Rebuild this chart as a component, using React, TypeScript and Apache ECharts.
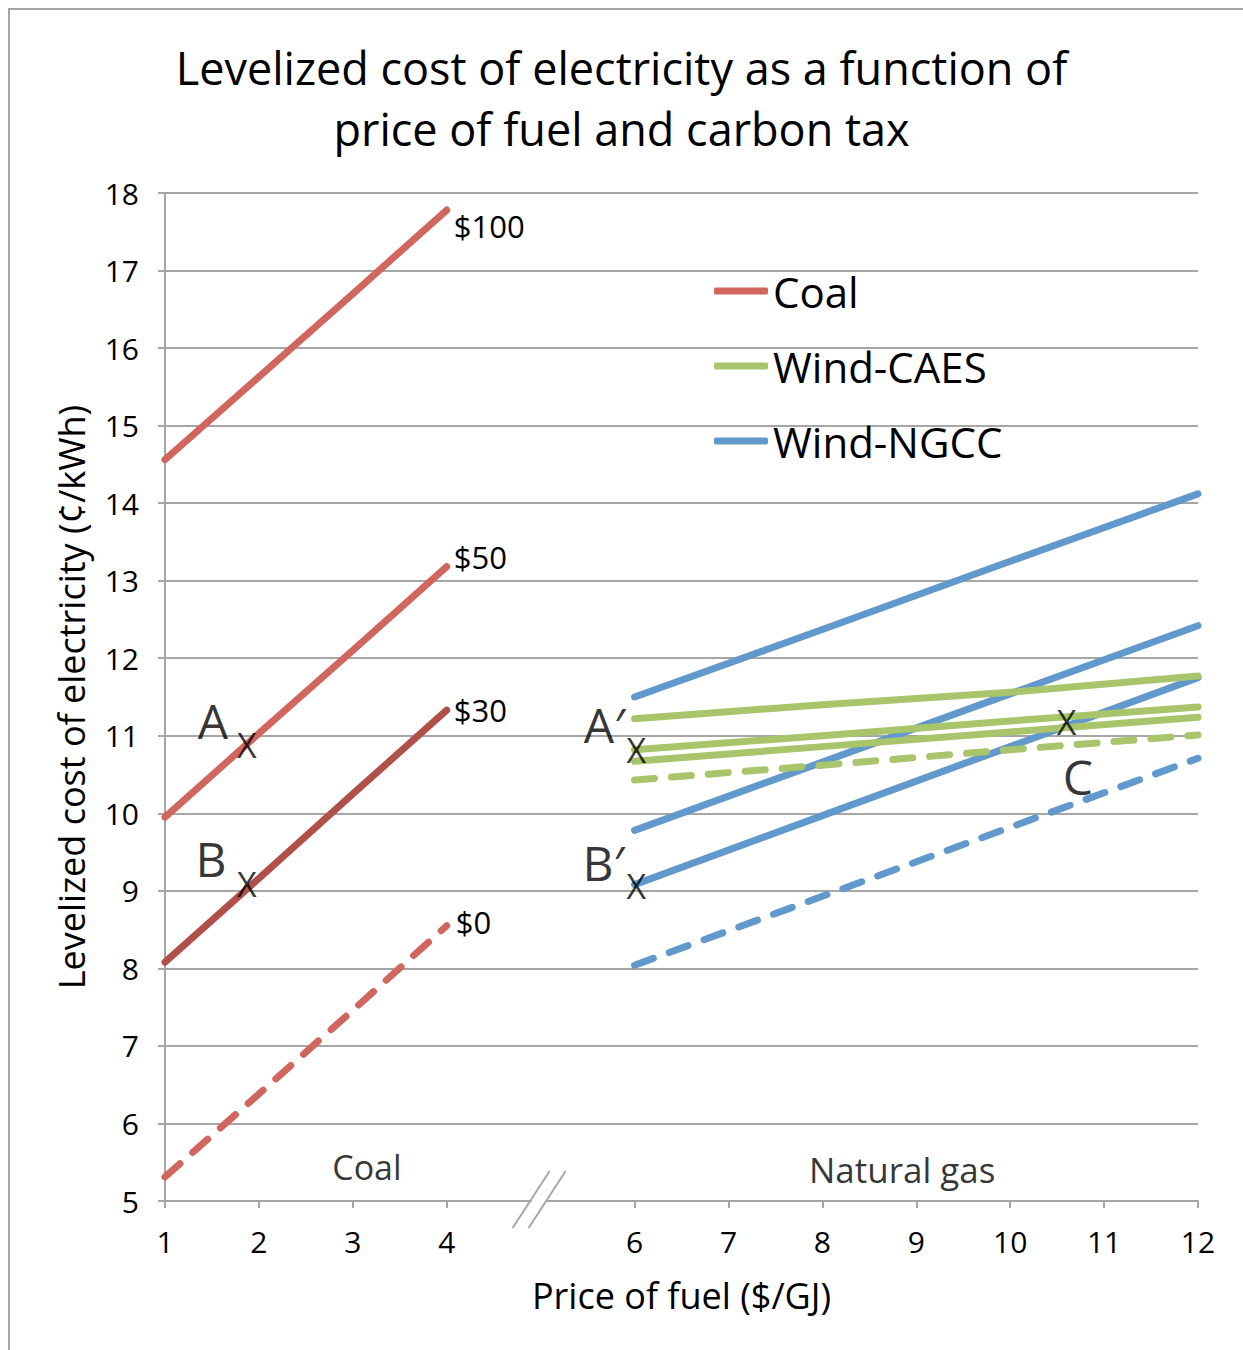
import React, { useEffect, useRef } from "react";
import * as echarts from "echarts";

const FONT = "Open Sans";

// Coal (x = 1..4), carbon tax levels
const coalX = [1, 2, 3, 4];
const coal100 = [14.56, 15.63, 16.7, 17.78];
const coal50 = [9.95, 11.03, 12.1, 13.18];
const coal30 = [8.08, 9.16, 10.25, 11.33];
const coal0 = [5.31, 6.38, 7.46, 8.55];

// Natural gas (x = 6..12)
const gasX = [6, 8, 10, 12];
const ngccTop = [11.5, 12.37, 13.25, 14.12];
const ngccMid = [9.78, 10.66, 11.54, 12.42];
const ngccLow = [9.08, 9.97, 10.86, 11.75];
const ngccDash = [8.04, 8.93, 9.82, 10.71];
const caesTop = [11.22, 11.4, 11.56, 11.77];
const caesMid = [10.82, 11.0, 11.19, 11.37];
const caesLow = [10.67, 10.86, 11.05, 11.24];
const caesDash = [10.43, 10.62, 10.82, 11.01];

const xTickValues = [1, 2, 3, 4, 6, 7, 8, 9, 10, 11, 12];
const legendNames = ["Coal", "Wind-CAES", "Wind-NGCC"];

// Annotations (text, data position, font size)
const annotText = ["A", "X", "B", "X", "A′", "X", "B′", "X", "X", "C", "Coal", "Natural gas"];
const annotX = [1.51, 1.87, 1.49, 1.87, 5.68, 6.02, 5.67, 6.02, 10.6, 10.72, 3.15, 8.85];
const annotY = [11.2, 10.88, 9.42, 9.09, 11.15, 10.82, 9.37, 9.06, 11.18, 10.48, 5.44, 5.4];
const annotSize = [48, 34, 48, 34, 48, 34, 48, 34, 34, 48, 34, 35];

const RED = "#d0665e";
const DARKRED = "#b14f49";
const GREEN = "#a8c56c";
const BLUE = "#6199cc";
const GRID = "#a6a6a6";

const pair = (xs: number[], ys: number[]) => xs.map((x, i) => [x, ys[i]]);

function lineSeries(
  name: string,
  xs: number[],
  ys: number[],
  color: string,
  dashed: boolean,
  endText?: string,
  endOffset?: number[]
) {
  const s: any = {
    type: "line",
    name,
    data: pair(xs, ys),
    color,
    showSymbol: false,
    symbol: "none",
    silent: true,
    z: 3,
    lineStyle: {
      width: 7,
      color,
      type: dashed ? [20, 17] : "solid",
      cap: "round",
      join: "round",
    },
  };
  if (endText) {
    s.endLabel = {
      show: true,
      formatter: endText,
      fontFamily: FONT,
      fontSize: 31,
      color: "#000",
      distance: 7,
      offset: endOffset || [0, 0],
    };
  }
  return s;
}

export default function App() {
  const ref = useRef<HTMLDivElement>(null);
  useEffect(() => {
    document.body.style.margin = "0";
    const chart = echarts.init(ref.current!, null, { renderer: "svg" });
    const option: any = {
      animation: false,
      textStyle: { fontFamily: FONT, color: "#000" },
      title: {
        text: "Levelized cost of electricity as a function of\nprice of fuel and carbon tax",
        left: "center",
        top: 32,
        textStyle: { fontFamily: FONT, fontSize: 45, fontWeight: "normal", color: "#000", lineHeight: 61 },
      },
      legend: {
        orient: "vertical",
        left: 714,
        top: 264,
        padding: 0,
        itemWidth: 54,
        itemHeight: 7,
        itemGap: 21,
        icon: "roundRect",
        selectedMode: false,
        data: legendNames,
        textStyle: { fontFamily: FONT, fontSize: 42, color: "#000", lineHeight: 42, padding: [12, 0, 0, 0] },
      },
      grid: { left: 165, right: 45, top: 193, bottom: 149, containLabel: false },
      xAxis: {
        type: "value",
        min: 1,
        max: 12,
        interval: 1,
        name: "Price of fuel ($/GJ)",
        nameLocation: "middle",
        nameGap: 76,
        nameTextStyle: { fontFamily: FONT, fontSize: 36, color: "#000" },
        axisLine: { show: true, onZero: false, lineStyle: { color: GRID, width: 2 } },
        axisTick: { show: true, length: 7, customValues: xTickValues, lineStyle: { color: GRID, width: 2 } },
        axisLabel: { customValues: xTickValues, fontFamily: FONT, fontSize: 30, color: "#000", margin: 25 },
        splitLine: { show: false },
      },
      yAxis: {
        type: "value",
        min: 5,
        max: 18,
        interval: 1,
        name: "Levelized cost of electricity (¢/kWh)",
        nameLocation: "middle",
        nameGap: 76,
        nameRotate: 90,
        nameTextStyle: { fontFamily: FONT, fontSize: 36, color: "#000" },
        axisLine: { show: true, lineStyle: { color: GRID, width: 2 } },
        axisTick: { show: true, length: 7, lineStyle: { color: GRID, width: 2 } },
        axisLabel: { fontFamily: FONT, fontSize: 30, color: "#000", margin: 26 },
        splitLine: { show: true, lineStyle: { color: GRID, width: 2 } },
      },
      series: [
        lineSeries("Coal", coalX, coal100, RED, false, "$100", [0, 16]),
        lineSeries("Coal $50", coalX, coal50, RED, false, "$50", [0, -10]),
        lineSeries("Coal $30", coalX, coal30, DARKRED, false, "$30", [0, 0]),
        lineSeries("Coal $0", coalX, coal0, RED, true, "$0", [2, -4]),
        lineSeries("Wind-NGCC", gasX, ngccTop, BLUE, false),
        lineSeries("Wind-NGCC 2", gasX, ngccMid, BLUE, false),
        lineSeries("Wind-NGCC 3", gasX, ngccLow, BLUE, false),
        lineSeries("Wind-NGCC 4", gasX, ngccDash, BLUE, true),
        lineSeries("Wind-CAES", gasX, caesTop, GREEN, false),
        lineSeries("Wind-CAES 2", gasX, caesMid, GREEN, false),
        lineSeries("Wind-CAES 3", gasX, caesLow, GREEN, false),
        lineSeries("Wind-CAES 4", gasX, caesDash, GREEN, true),
        {
          type: "scatter",
          name: "annotations",
          silent: true,
          z: 10,
          symbolSize: 1,
          itemStyle: { color: "rgba(0,0,0,0)" },
          data: annotText.map((t, i) => ({
            value: [annotX[i], annotY[i]],
            label: { fontSize: annotSize[i], lineHeight: Math.round(annotSize[i] * 0.9) },
          })),
          label: {
            show: true,
            position: "inside",
            color: "#000",
            fontFamily: FONT,
            formatter: (p: any) => annotText[p.dataIndex],
          },
        },
      ],
    };
    chart.setOption(option);

    const p = chart.convertToPixel({ gridIndex: 0 }, [5, 5]) as number[];
    const cx = p[0];
    const cy = p[1];
    chart.setOption({
      graphic: [
        {
          type: "rect",
          shape: { x: 9, y: 9, width: 1400, height: 1400 },
          style: { fill: "none", stroke: GRID, lineWidth: 2 },
          silent: true,
        },
        {
          type: "rect",
          shape: { x: cx - 9, y: cy - 4, width: 15, height: 8 },
          style: { fill: "#fff" },
          z: 20,
          silent: true,
        },
        {
          type: "line",
          shape: { x1: cx - 28, y1: cy + 27, x2: cx + 9, y2: cy - 30 },
          style: { stroke: GRID, lineWidth: 2 },
          z: 21,
          silent: true,
        },
        {
          type: "line",
          shape: { x1: cx - 12, y1: cy + 27, x2: cx + 25, y2: cy - 30 },
          style: { stroke: GRID, lineWidth: 2 },
          z: 21,
          silent: true,
        },
      ],
    });
    return () => chart.dispose();
  }, []);
  return <div ref={ref} style={{ width: 1243, height: 1350 }} />;
}
